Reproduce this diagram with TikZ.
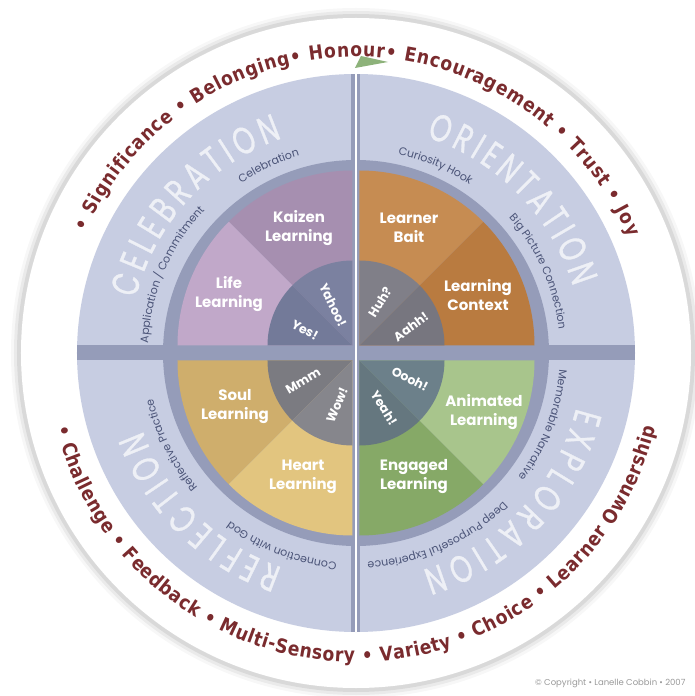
\documentclass[tikz,border=0pt]{standalone}
\usepackage{fontspec}
\setmainfont{Poppins}
\newfontfamily\ringfont[FakeStretch=0.88]{DejaVu Sans}
\newfontfamily\titlefont[FakeStretch=0.72, FakeBold=0.8]{Poppins}
\usetikzlibrary{decorations.text}

\definecolor{ringred}{HTML}{7A2B2E}
\definecolor{discouter}{HTML}{B2B9D4}
\definecolor{disclight}{HTML}{C7CDE2}
\definecolor{bardark}{HTML}{959CB9}
\definecolor{subtext}{HTML}{4A5377}
\definecolor{titlewhite}{HTML}{EEF0F6}
\definecolor{flag}{HTML}{8DB27A}
% outer halves of the quadrants
\definecolor{kaizen}{HTML}{A68FB0}
\definecolor{life}{HTML}{C1A8C9}
\definecolor{bait}{HTML}{C68C52}
\definecolor{context}{HTML}{B97B40}
\definecolor{soul}{HTML}{CFAE6C}
\definecolor{heart}{HTML}{E2C57F}
\definecolor{animated}{HTML}{A8C58C}
\definecolor{engaged}{HTML}{86A967}
% inner circle
\definecolor{yahoo}{HTML}{7B81A0}
\definecolor{yes}{HTML}{737A99}
\definecolor{huh}{HTML}{807F88}
\definecolor{aahh}{HTML}{77767F}
\definecolor{mmm}{HTML}{7B7B81}
\definecolor{wow}{HTML}{86868C}
\definecolor{oooh}{HTML}{6C808A}
\definecolor{yeah}{HTML}{65777F}

\pgfdeclareradialshading{discshade}{\pgfpoint{0bp}{0bp}}{color(0bp)=(disclight); color(35bp)=(disclight); color(42bp)=(disclight!55!discouter); color(50bp)=(discouter)}

\tikzset{
  ringtext/.style={decorate, decoration={text along path, text align=fit to path,
      text={|\ringfont\bfseries\fontsize{19.5}{20}\selectfont\color{ringred}|#1}}},
  titletext/.style={decorate, decoration={text along path, text align=fit to path,
      text={|\titlefont\fontsize{38}{38}\selectfont\color{titlewhite}|#1}}},
  subtitle/.style={decorate, decoration={text along path, text align=center,
      text={|\fontsize{11}{11}\selectfont\color{subtext}|#1}}},
  sector/.style={text=white, font=\bfseries\fontsize{15}{19}\selectfont, align=center},
  cheer/.style={text=white, font=\bfseries\fontsize{12.5}{12.5}\selectfont}
}

\begin{document}
\begin{tikzpicture}[x=1pt, y=1pt]
    \useasboundingbox (-356,-343) rectangle (338,353);

    % white outer disc with a soft shadow
    \foreach \r/\o in {345/0.03, 342/0.05, 339/0.07} {
        \fill[black, opacity=\o] (0,0) circle (\r);
    }
    \fill[white] (0,0) circle (335);

    % blue disc and the cross
    \shade[shading=discshade] (0,0) circle (279);
    \fill[bardark] (-279,-7.5) rectangle (279,7.5);
    \fill[bardark] (-4.5,-279) rectangle (4.5,279);
    \fill[bardark] (0,0) circle (193);

    % coloured quadrants, each split in two halves
    \foreach \dx/\dy/\a/\outA/\outB/\inA/\inB in {
        -3.5/7.5/90/kaizen/life/yahoo/yes,
        3.5/7.5/0/context/bait/aahh/huh,
        -3.5/-7.5/180/soul/heart/mmm/wow,
        3.5/-7.5/270/engaged/animated/yeah/oooh} {
        \begin{scope}[shift={(\dx,\dy)}]
            \fill[\outA] (0,0) -- (\a:175) arc[start angle=\a, end angle=\a+45, radius=175] -- cycle;
            \fill[\outB] (0,0) -- (\a+45:175) arc[start angle=\a+45, end angle=\a+90, radius=175] -- cycle;
            \fill[\inA] (0,0) -- (\a:85) arc[start angle=\a, end angle=\a+45, radius=85] -- cycle;
            \fill[\inB] (0,0) -- (\a+45:85) arc[start angle=\a+45, end angle=\a+90, radius=85] -- cycle;
        \end{scope}
    }

    % white divider and the little flag on top
    \draw[white, line width=1.3pt] (0,285) -- (0,-279);
    \fill[flag] (-1,285) -- (5,297) -- (32,291) -- cycle;

    % outer ring of values
    \path[ringtext={• Significance • Belonging• Honour• Encouragement • Trust • Joy}]
        (156:296) arc[start angle=156, end angle=23, radius=296];
    \path[ringtext={• Challenge • Feedback • Multi-Sensory • Variety • Choice • Learner Ownership}]
        (194:309) arc[start angle=194, end angle=346, radius=309];

    % the four phases
    \path[titletext={CELEBRATION}] (166:227) arc[start angle=166, end angle=109, radius=227];
    \path[titletext={ORIENTATION}] (72:227) arc[start angle=72, end angle=17, radius=227];
    \path[titletext={EXPLORATION}] (-14:227) arc[start angle=-14, end angle=-73, radius=227];
    \path[titletext={REFLECTION}] (251:227) arc[start angle=251, end angle=200, radius=227];

    % steps of each phase
    \path[subtitle={Celebration}] (155:205) arc[start angle=155, end angle=75, radius=205];
    \path[subtitle={Application / Commitment}] (200:208) arc[start angle=200, end angle=114, radius=208];
    \path[subtitle={Curiosity Hook}] (107:203) arc[start angle=107, end angle=27, radius=203];
    \path[subtitle={Big Picture Connection}] (64:204) arc[start angle=64, end angle=-16, radius=204];
    \path[subtitle={Memorable Narrative}] (19:204) arc[start angle=19, end angle=-61, radius=204];
    \path[subtitle={Deep Purposeful Experience}] (-21:209) arc[start angle=-21, end angle=-111, radius=209];
    \path[subtitle={Connection with God}] (289:210) arc[start angle=289, end angle=209, radius=210];
    \path[subtitle={Reflective Practice}] (246.5:208) arc[start angle=246.5, end angle=166.5, radius=208];

    % learning labels
    \node[sector] (kaizen) at (-57,125) {Kaizen\\Learning};
    \node[sector] (life) at (-127,59) {Life\\Learning};
    \node[sector] (bait) at (53,125) {Learner\\Bait};
    \node[sector] (context) at (122,58) {Learning\\Context};
    \node[sector] (soul) at (-121,-54) {Soul\\Learning};
    \node[sector] (heart) at (-53,-124) {Heart\\Learning};
    \node[sector] (animated) at (128,-59) {Animated\\Learning};
    \node[sector] (engaged) at (58,-124) {Engaged\\Learning};

    % responses in the centre
    \node[cheer, rotate=-64] (yahoo) at (-23,48) {Yahoo!};
    \node[cheer, rotate=-28] (yes) at (-51,23) {Yes!};
    \node[cheer, rotate=58] (huh) at (24,51) {Huh?};
    \node[cheer, rotate=36] (aahh) at (55,26) {Aahh!};
    \node[cheer, rotate=30] (mmm) at (-53,-28) {Mmm};
    \node[cheer, rotate=67] (wow) at (-19,-52) {Wow!};
    \node[cheer, rotate=-27] (oooh) at (54,-26) {Oooh!};
    \node[cheer, rotate=-58] (yeah) at (28,-55) {Yeah!};

    \node[anchor=east, text=gray!80, font=\fontsize{8.5}{9}\selectfont] (copy) at (333,-330)
        {© Copyright • Lanelle Cobbin • 2007};
\end{tikzpicture}
\end{document}
